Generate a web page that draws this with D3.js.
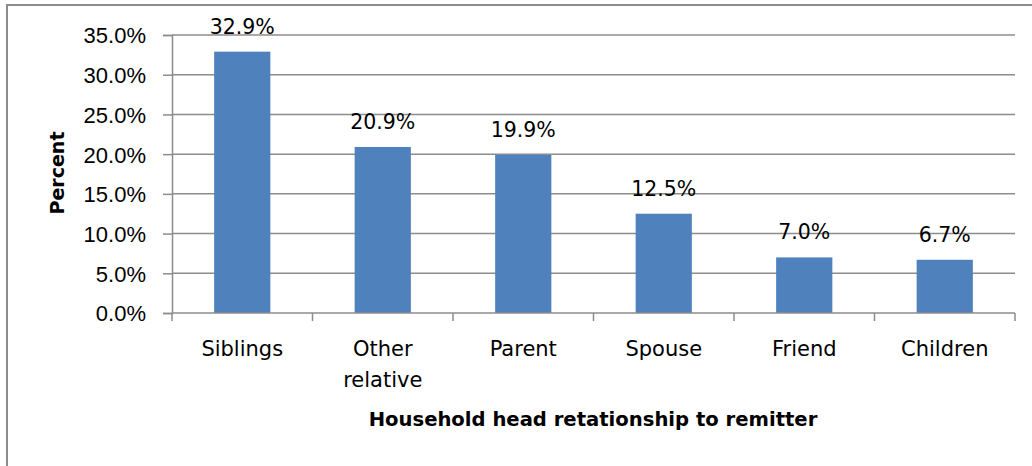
<!DOCTYPE html>
<html lang="en">
<head>
  <meta charset="UTF-8">
  <title>Household head relationship to remitter</title>
  <script src="https://d3js.org/d3.v7.min.js"></script>
  <style>
    body { margin: 0; background: #fff; }
    svg { font-family: "DejaVu Sans", sans-serif; }
    .tick text { fill: #000; }
  </style>
</head>
<body>
  <svg id="chart" width="1032" height="466"></svg>

  <script>
    // data
    const categories = ["Siblings", "Other relative", "Parent", "Spouse", "Friend", "Children"];
    const percents = [32.9, 20.9, 19.9, 12.5, 7.0, 6.7];
    const yTicks = [0, 5, 10, 15, 20, 25, 30, 35];

    const dataset = categories.map((c, i) => ({ cat: c, value: percents[i] }));

    const margin = { top: 35, right: 17, bottom: 153, left: 172 };
    const width = 1032 - margin.left - margin.right;
    const height = 466 - margin.top - margin.bottom;

    const svg = d3.select("#chart");

    // outer frame (only left and top visible in the original crop)
    svg.append("rect")
      .attr("x", 7)
      .attr("y", 5)
      .attr("width", 1040)
      .attr("height", 480)
      .attr("fill", "none")
      .attr("stroke", "#8c8c8c")
      .attr("stroke-width", 2);

    const g = svg.append("g")
      .attr("transform", `translate(${margin.left},${margin.top})`);

    const x = d3.scaleBand()
      .domain(categories)
      .range([0, width])
      .paddingInner(0.6)
      .paddingOuter(0.3);

    const y = d3.scaleLinear()
      .domain([0, 35])
      .range([height, 0]);

    // gridlines
    g.append("g")
      .selectAll("line")
      .data(yTicks.filter(d => d > 0))
      .enter()
      .append("line")
      .attr("x1", 0)
      .attr("x2", width)
      .attr("y1", d => y(d))
      .attr("y2", d => y(d))
      .attr("stroke", "#8c8c8c")
      .attr("stroke-width", 1.5);

    // y axis
    const yAxis = g.append("g")
      .call(d3.axisLeft(y).tickValues(yTicks).tickSize(9).tickPadding(17)
        .tickFormat(d => d.toFixed(1) + "%"));
    yAxis.selectAll("text").style("font-size", "22px").attr("dy", "0.36em");
    yAxis.selectAll("line").attr("stroke", "#8c8c8c").attr("stroke-width", 1.5);
    yAxis.select(".domain").attr("stroke", "#8c8c8c").attr("stroke-width", 1.5);

    // bars
    g.selectAll(".bar")
      .data(dataset)
      .enter()
      .append("rect")
      .attr("class", "bar")
      .attr("x", d => x(d.cat))
      .attr("y", d => y(d.value))
      .attr("width", x.bandwidth())
      .attr("height", d => height - y(d.value))
      .attr("fill", "#4f81bd");

    // value labels
    g.selectAll(".bar-label")
      .data(dataset)
      .enter()
      .append("text")
      .attr("x", d => x(d.cat) + x.bandwidth() / 2)
      .attr("y", d => y(d.value) - 18)
      .attr("text-anchor", "middle")
      .style("font-size", "20.5px")
      .text(d => d.value.toFixed(1) + "%");

    // x axis baseline and boundary ticks
    const step = width / categories.length;
    g.append("line")
      .attr("x1", 0).attr("x2", width)
      .attr("y1", height).attr("y2", height)
      .attr("stroke", "#8c8c8c").attr("stroke-width", 1.5);
    g.append("g")
      .selectAll("line")
      .data(d3.range(categories.length + 1))
      .enter()
      .append("line")
      .attr("x1", i => i * step).attr("x2", i => i * step)
      .attr("y1", height).attr("y2", height + 8)
      .attr("stroke", "#8c8c8c").attr("stroke-width", 1.5);

    // category labels, wrapped on spaces for "Other relative"
    g.selectAll(".cat-label")
      .data(dataset)
      .enter()
      .append("text")
      .attr("text-anchor", "middle")
      .style("font-size", "21px")
      .each(function(d) {
        const words = d.cat === "Other relative" ? d.cat.split(" ") : [d.cat];
        const t = d3.select(this);
        words.forEach((w, i) => {
          t.append("tspan")
            .attr("x", x(d.cat) + x.bandwidth() / 2)
            .attr("y", height + 43 + i * 31)
            .text(w);
        });
      });

    // axis titles
    svg.append("text")
      .attr("x", 593)
      .attr("y", 426)
      .attr("text-anchor", "middle")
      .style("font-size", "19.6px")
      .style("font-weight", "bold")
      .text("Household head retationship to remitter");

    svg.append("text")
      .attr("transform", "translate(64,173) rotate(-90)")
      .attr("text-anchor", "middle")
      .style("font-size", "19px")
      .style("font-weight", "bold")
      .text("Percent");
  </script>
</body>
</html>
